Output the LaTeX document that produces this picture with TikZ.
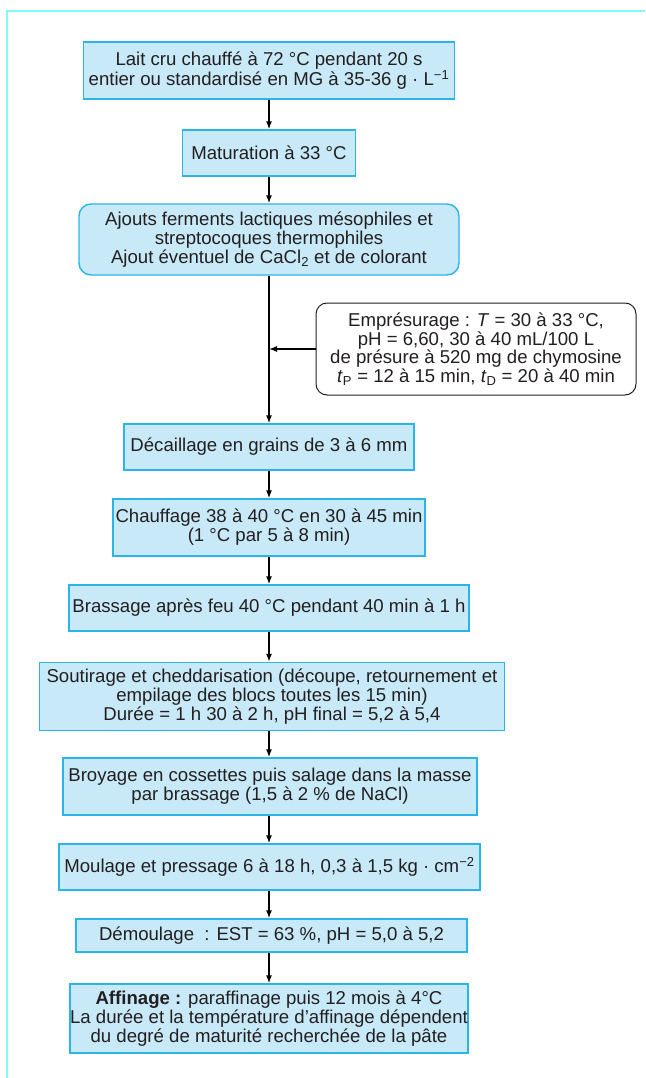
\documentclass[tikz,border=0pt]{standalone}
\usepackage{fontspec}
\setmainfont{Liberation Sans}
\usetikzlibrary{arrows.meta}
\definecolor{frameline}{HTML}{80FAFA}
\definecolor{boxfill}{HTML}{C8E9F8}
\definecolor{boxline}{HTML}{2AB4E8}
\definecolor{txt}{HTML}{231F20}
\begin{document}
\begin{tikzpicture}[x=1pt,y=-1pt,
  stage/.style={draw=boxline, fill=boxfill, line width=1.4pt, align=center,
    inner sep=0pt, text=txt, font=\fontsize{18.6}{19}\selectfont},
  note/.style={draw=txt, fill=white, line width=1pt, rounded corners=11pt,
    align=center, inner sep=0pt, text=txt, font=\fontsize{18.6}{18.5}\selectfont},
  flow/.style={draw=black, line width=1.3pt, -{Latex[length=8pt,width=6pt]}}]
\useasboundingbox (0,0) rectangle (645,1078);
% page frame
\draw[frameline, line width=2pt] (7,1078) -- (7,11) -- (645,11);

% process steps
\node[stage, minimum width=371pt, minimum height=57pt] (b1) at (269,70.5)
  {Lait cru chauffé à 72 °C pendant 20 s\\entier ou standardisé en MG à 35-36 g · L\textsuperscript{−1}};
\node[stage, minimum width=173pt, minimum height=46pt] (b2) at (269,153)
  {Maturation à 33 °C};
\node[stage, rounded corners=12pt, minimum width=380pt, minimum height=71pt] (b3) at (269,239.5)
  {Ajouts ferments lactiques mésophiles et\\streptocoques thermophiles\\Ajout éventuel de CaCl\textsubscript{2} et de colorant};
\node[note, minimum width=320pt, minimum height=92pt] (emp) at (476,349)
  {Emprésurage : \textit{T} = 30 à 33 °C,\\pH = 6,60, 30 à 40 mL/100 L\\de présure à 520 mg de chymosine\\\textit{t}\textsubscript{P} = 12 à 15 min, \textit{t}\textsubscript{D} = 20 à 40 min};
\node[stage, minimum width=290pt, minimum height=46pt] (b4) at (269,447)
  {Décaillage en grains de 3 à 6 mm};
\node[stage, minimum width=312pt, minimum height=57pt] (b5) at (269,527.5)
  {Chauffage 38 à 40 °C en 30 à 45 min\\(1 °C par 5 à 8 min)};
\node[stage, minimum width=400pt, minimum height=46pt] (b6) at (269,608)
  {Brassage après feu 40 °C pendant 40 min à 1 h};
\node[stage, minimum width=465pt, minimum height=68pt] (b7) at (272,696.5)
  {Soutirage et cheddarisation (découpe, retournement et\\empilage des blocs toutes les 15 min)\\Durée = 1 h 30 à 2 h, pH final = 5,2 à 5,4};
\node[stage, minimum width=414pt, minimum height=57pt] (b8) at (270,786.5)
  {Broyage en cossettes puis salage dans la masse\\par brassage (1,5 à 2 \% de NaCl)};
\node[stage, minimum width=421pt, minimum height=46pt] (b9) at (269.5,867)
  {Moulage et pressage 6 à 18 h, 0,3 à 1,5 kg · cm\textsuperscript{−2}};
\node[stage, minimum width=391pt, minimum height=33pt] (b10) at (271.5,935.5)
  {Démoulage~ : EST = 63 \%, pH = 5,0 à 5,2};
\node[stage, minimum width=390pt, minimum height=69pt] (b11) at (269,1018.5)
  {\textbf{Affinage :} paraffinage puis 12 mois à 4°C\\La durée et la température d'affinage dépendent\\du degré de maturité recherchée de la pâte};

% connectors
\draw[flow] (b1.south) -- (b1.south |- b2.north);
\draw[flow] (b2.south) -- (b2.south |- b3.north);
\draw[flow] (b3.south) -- (b3.south |- b4.north);
\draw[flow] (emp.west) -- (emp.west -| b3.south);
\draw[flow] (b4.south) -- (b4.south |- b5.north);
\draw[flow] (b5.south) -- (b5.south |- b6.north);
\draw[flow] (b6.south) -- (b6.south |- b7.north);
\draw[flow] (b6.south |- b7.south) -- (b6.south |- b8.north);
\draw[flow] (b6.south |- b8.south) -- (b6.south |- b9.north);
\draw[flow] (b6.south |- b9.south) -- (b6.south |- b10.north);
\draw[flow] (b6.south |- b10.south) -- (b6.south |- b11.north);
\end{tikzpicture}
\end{document}
